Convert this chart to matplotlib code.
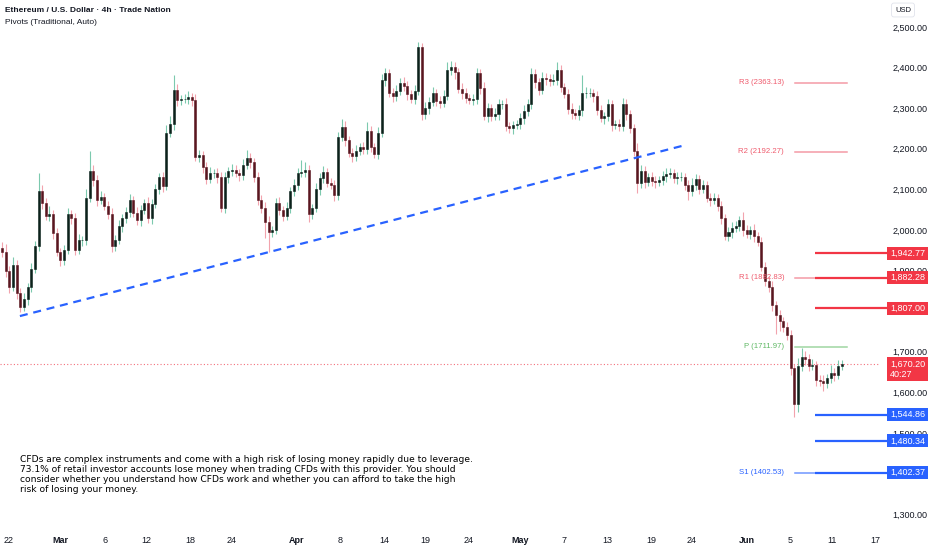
import matplotlib
matplotlib.use("Agg")
import matplotlib.pyplot as plt
from matplotlib.patches import Rectangle
from matplotlib.transforms import blended_transform_factory
import numpy as np

# ---------------- data ----------------
first_open = 1955
closes = [
    1945, 1900, 1860, 1915, 1845, 1810, 1830, 1860, 1905, 1960,
    2095, 2066, 2035, 2040, 1993, 1945, 1926, 1950, 2040, 2030,
    1950, 1975, 1975, 2080, 2145, 2123, 2075, 2081, 2060, 2040,
    1960, 1975, 2010, 2030, 2045, 2074, 2042, 2025, 2050, 2067,
    2030, 2065, 2100, 2130, 2108, 2240, 2260, 2345, 2320, 2322,
    2322, 2328, 2320, 2180, 2185, 2155, 2125, 2140, 2140, 2130,
    2055, 2130, 2145, 2148, 2140, 2135, 2160, 2178, 2168, 2130,
    2075, 2055, 2020, 1995, 2000, 2067, 2050, 2035, 2055, 2095,
    2112, 2140, 2142, 2148, 2040, 2055, 2100, 2128, 2143, 2116,
    2112, 2085, 2230, 2254, 2222, 2190, 2182, 2195, 2205, 2200,
    2245, 2205, 2188, 2240, 2370, 2386, 2337, 2330, 2342, 2362,
    2354, 2335, 2322, 2343, 2451, 2285, 2300, 2315, 2337, 2318,
    2314, 2330, 2395, 2401, 2388, 2347, 2337, 2325, 2320, 2322,
    2386, 2350, 2282, 2300, 2280, 2285, 2310, 2310, 2255, 2250,
    2258, 2260, 2275, 2292, 2310, 2385, 2365, 2345, 2375, 2372,
    2366, 2370, 2395, 2352, 2335, 2298, 2288, 2284, 2295, 2337,
    2337, 2337, 2330, 2295, 2275, 2280, 2310, 2258, 2260, 2256,
    2310, 2285, 2250, 2195, 2116, 2145, 2118, 2130, 2120, 2118,
    2122, 2132, 2138, 2140, 2128, 2130, 2130, 2110, 2095, 2112,
    2125, 2100, 2110, 2080, 2074, 2078, 2060, 2030, 1985, 1995,
    2006, 2010, 2025, 2000, 1990, 2000, 1985, 1970, 1910, 1875,
    1860, 1815, 1790, 1775, 1760, 1742, 1660, 1572, 1665, 1688,
    1682, 1664, 1668, 1630, 1628, 1622, 1636, 1647, 1642, 1664,
    1670.2,
]
up_wick = [
    15, 20, 12, 18, 10, 12, 15, 10, 14, 12,
    45, 15, 12, 18, 10, 12, 10, 14, 15, 10,
    12, 15, 10, 22, 50, 14, 12, 15, 10, 12,
    15, 12, 14, 10, 12, 15, 10, 14, 12, 10,
    15, 12, 14, 10, 12, 18, 20, 37, 14, 10,
    12, 15, 10, 14, 12, 10, 12, 15, 10, 12,
    14, 12, 10, 15, 12, 10, 14, 18, 12, 10,
    12, 10, 14, 15, 10, 12, 14, 10, 15, 12,
    14, 12, 30, 20, 12, 10, 15, 12, 14, 10,
    12, 10, 12, 20, 14, 10, 12, 15, 10, 12,
    20, 12, 10, 14, 15, 12, 10, 12, 14, 12,
    15, 12, 10, 14, 12, 10, 15, 12, 14, 10,
    12, 14, 20, 15, 12, 10, 15, 12, 10, 12,
    12, 10, 14, 12, 10, 15, 12, 10, 14, 12,
    10, 12, 14, 15, 12, 14, 12, 10, 14, 12,
    12, 14, 18, 12, 10, 12, 14, 10, 12, 45,
    14, 12, 10, 12, 14, 10, 12, 10, 12, 14,
    14, 12, 10, 12, 20, 14, 12, 10, 12, 14,
    12, 14, 15, 12, 10, 14, 12, 10, 12, 15,
    14, 10, 12, 10, 12, 14, 10, 12, 10, 12,
    14, 12, 10, 20, 12, 10, 14, 10, 12, 10,
    12, 14, 10, 12, 10, 14, 12, 10, 20, 22,
    15, 12, 14, 10, 12, 15, 10, 20, 12, 15,
    10,
]
dn_wick = [
    12, 15, 14, 10, 15, 12, 10, 14, 12, 10,
    12, 14, 10, 12, 15, 10, 14, 12, 10, 15,
    12, 10, 14, 12, 10, 14, 15, 12, 10, 12,
    14, 12, 10, 15, 12, 14, 10, 12, 14, 10,
    12, 15, 10, 12, 14, 10, 12, 14, 15, 12,
    10, 12, 14, 10, 12, 15, 12, 10, 12, 14,
    10, 12, 14, 12, 10, 14, 12, 10, 15, 12,
    14, 12, 40, 50, 12, 10, 14, 12, 10, 12,
    12, 14, 10, 12, 20, 12, 10, 14, 12, 10,
    12, 14, 10, 12, 15, 10, 14, 12, 10, 12,
    14, 12, 10, 14, 12, 15, 10, 14, 12, 10,
    12, 14, 10, 12, 10, 15, 12, 14, 10, 12,
    14, 12, 10, 12, 15, 10, 14, 12, 10, 12,
    12, 14, 10, 15, 12, 10, 14, 12, 10, 12,
    14, 10, 12, 14, 10, 12, 15, 12, 10, 14,
    12, 10, 14, 12, 10, 12, 15, 10, 12, 14,
    12, 10, 14, 12, 10, 15, 12, 14, 10, 12,
    12, 14, 10, 12, 25, 12, 14, 10, 12, 14,
    10, 12, 14, 10, 12, 14, 10, 12, 20, 12,
    14, 12, 10, 12, 14, 10, 12, 14, 10, 12,
    14, 10, 12, 14, 10, 12, 14, 10, 12, 14,
    12, 14, 45, 25, 12, 14, 18, 32, 20, 12,
    14, 12, 10, 14, 12, 18, 10, 12, 14, 10,
    8,
]

x_tick_pos = [1.9, 15.9, 28.1, 39.5, 51.5, 63.0, 80.8, 92.6, 104.7, 115.9,
              127.9, 141.9, 154.0, 165.8, 177.8, 189.0, 204.1, 215.9, 227.4, 239.2]
x_tick_labels = ["22", "Mar", "6", "12", "18", "24", "Apr", "8", "14", "19",
                 "24", "May", "7", "13", "19", "24", "Jun", "5", "11", "17"]
month_labels = {"Mar", "Apr", "May", "Jun"}

y_ticks = [1300, 1400, 1500, 1600, 1700, 1800, 1900, 2000, 2100, 2200, 2300, 2400, 2500]
y_ticks_hidden = {1400, 1800}   # covered by the level boxes in the reference

pivot_names = ["R3", "R2", "R1", "P", "S1"]
pivot_values = [2363.13, 2192.27, 1882.83, 1711.97, 1402.53]
pivot_start, pivot_end = 217.3, 231.5

red_levels = [1942.77, 1882.28, 1807.00]
blue_levels = [1544.86, 1480.34, 1402.37]
level_start = 222.7

last_price = 1670.20
countdown = "40:27"

trend_x = [4.9, 187.1]
trend_y = [1788, 2209]

title = "Ethereum / U.S. Dollar \u00b7 4h \u00b7 Trade Nation"
subtitle = "Pivots (Traditional, Auto)"
disclaimer = ("CFDs are complex instruments and come with a high risk of losing money rapidly due to leverage.\n"
              "73.1% of retail investor accounts lose money when trading CFDs with this provider. You should\n"
              "consider whether you understand how CFDs work and whether you can afford to take the high\n"
              "risk of losing your money.")

# ---------------- derived OHLC ----------------
closes = np.array(closes, dtype=float)
opens = np.concatenate([[first_open], closes[:-1]])
highs = np.maximum(opens, closes) + np.array(up_wick)
lows = np.minimum(opens, closes) - np.array(dn_wick)
idx = np.arange(len(closes))
up = closes >= opens

RED = "#f23645"
BLUE = "#2962ff"
TXT = "#131722"
FONT = "Liberation Sans"

W, H = 932, 550
XMIN, XMAX = -0.55, 240.5
YMIN, YMAX = 1273.4, 2566.5
fig = plt.figure(figsize=(W / 100, H / 100), dpi=100)
fig.patch.set_facecolor("white")
ax = fig.add_axes([0, 25 / H, 880 / W, 525 / H])
ax.set_facecolor("white")
ax.set_xlim(XMIN, XMAX)
ax.set_ylim(YMIN, YMAX)
for s in ax.spines.values():
    s.set_visible(False)

# candles
wick_cols = np.where(up, "#7cc9ae", "#f2a3ad")
body_cols = np.where(up, "#0c221b", "#5a1620")
ax.vlines(idx, lows, highs, colors=wick_cols, linewidth=0.8, zorder=2)
ax.bar(idx, closes - opens, bottom=opens, width=0.55, color=body_cols,
       edgecolor=body_cols, linewidth=0.4, zorder=3)

# trend line
ax.plot(trend_x, trend_y, color=BLUE, lw=1.6, linestyle=(0, (3.6, 2.6)), zorder=4)

# last price dotted line
ax.axhline(last_price, color="#f2707c", lw=0.8, linestyle=(0, (1, 2)), zorder=1)

# pivots
piv_line_cols = {"R": "#f49aa6", "P": "#9fd6a2", "S": "#6f96ff"}
piv_text_cols = {"R": "#ef5b6d", "P": "#5fb864", "S": "#2962ff"}
for name, v in zip(pivot_names, pivot_values):
    k = name[0]
    ax.plot([pivot_start, pivot_end], [v, v], color=piv_line_cols[k], lw=1.1, zorder=4)
    ax.annotate(f"{name} ({v:.2f})", xy=(pivot_start, v), xytext=(-8, 0),
                textcoords="offset points", ha="right", va="center",
                fontsize=5.6, color=piv_text_cols[k], family=FONT, zorder=5)

# horizontal levels (reach the price boxes on the right scale)
tr = blended_transform_factory(ax.transAxes, ax.transData)
data_per_px = (XMAX - XMIN) / 880.0
line_end = XMAX + 8 * data_per_px
for v in red_levels:
    ax.plot([level_start, line_end], [v, v], color=RED, lw=1.6, zorder=5,
            solid_capstyle="butt", clip_on=False)
for v in blue_levels:
    ax.plot([level_start, line_end], [v, v], color=BLUE, lw=1.6, zorder=5,
            solid_capstyle="butt", clip_on=False)

# y axis on right
ax.yaxis.tick_right()
ax.set_yticks(y_ticks)
ax.set_yticklabels(["" if v in y_ticks_hidden else f"{v:,.2f}" for v in y_ticks])
ax.tick_params(axis="y", length=0, pad=9, labelsize=6.5, labelcolor=TXT)
for t in ax.get_yticklabels():
    t.set_family(FONT)

# x axis
ax.set_xticks(x_tick_pos)
ax.set_xticklabels(x_tick_labels)
ax.tick_params(axis="x", length=0, pad=8, labelsize=6.5, labelcolor=TXT)
for t in ax.get_xticklabels():
    t.set_family(FONT)
    if t.get_text() in month_labels:
        t.set_fontweight("bold")

# right-axis price boxes
px_to_price = (YMAX - YMIN) / 525.0
box_x0 = 1 + 7 / 880
box_w = 41 / 880


def price_box(v, color, lines=None):
    lines = lines or [f"{v:,.2f}"]
    h = (13 + 11 * (len(lines) - 1)) * px_to_price
    top = v + 6.5 * px_to_price
    ax.add_patch(Rectangle((box_x0, top - h), box_w, h, transform=tr, facecolor=color,
                           edgecolor="none", clip_on=False, zorder=6))
    for i, s in enumerate(lines):
        ax.text(box_x0 + 3 / 880, v - 11 * i * px_to_price, s, transform=tr,
                ha="left", va="center", fontsize=6.5, color="white", family=FONT,
                clip_on=False, zorder=7)


for v in red_levels:
    price_box(v, RED)
for v in blue_levels:
    price_box(v, BLUE)
price_box(last_price, RED, [f"{last_price:,.2f}", countdown])

# header texts
fig.text(5 / W, 1 - 10 / H, title, fontsize=6, fontweight="bold", color=TXT,
         family=FONT, va="center", ha="left")
fig.text(5 / W, 1 - 22 / H, subtitle, fontsize=6, color=TXT, family=FONT,
         va="center", ha="left")
fig.text(903 / W, 1 - 10 / H, "USD", fontsize=5.5, color=TXT, family=FONT,
         va="center", ha="center",
         bbox=dict(boxstyle="round,pad=0.45,rounding_size=0.3", fc="white", ec="#e0e3eb", lw=0.6))

# disclaimer
fig.text(20 / W, 1 - 455 / H, disclaimer, fontsize=6.6, color="#000000",
         family="DejaVu Sans", va="top", ha="left", linespacing=1.13)

fig.savefig("out.png", dpi=100)
